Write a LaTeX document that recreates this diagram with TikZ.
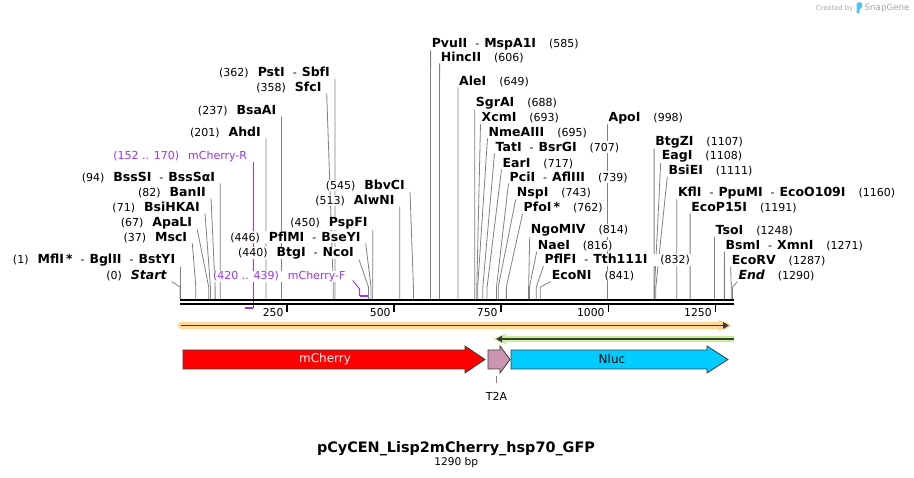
\documentclass[tikz,border=0pt]{standalone}
\usepackage{fontspec}
\setmainfont{DejaVu Sans}
\usetikzlibrary{arrows.meta,backgrounds}
\definecolor{cutgray}{RGB}{128,128,128}
\definecolor{primpurple}{RGB}{153,51,255}
\definecolor{cherryred}{RGB}{255,0,0}
\definecolor{t2apink}{RGB}{204,150,178}
\definecolor{nlucblue}{RGB}{0,204,255}
\definecolor{orangeband}{RGB}{255,214,150}
\definecolor{greenband}{RGB}{200,240,150}
\definecolor{darkline}{RGB}{60,60,60}
\definecolor{featedge}{RGB}{60,60,60}
\definecolor{snapgray}{RGB}{165,165,165}
\definecolor{snapblue}{RGB}{80,195,240}
\newcommand{\nm}[1]{{\fontsize{12.5}{14}\selectfont\bfseries #1}}
\newcommand{\nmi}[1]{{\fontsize{12.5}{14}\selectfont\bfseries\itshape #1}}
\newcommand{\dsh}{\hspace{8pt}-\hspace{5pt}}
\newcommand{\gapl}{\hspace{9pt}}
\newcommand{\gapr}{\hspace{13pt}}
% left label: id, bp, text right edge, y centre, text
\newcommand{\enzL}[5]{%
  \node[lab, anchor=base east] (#1) at ({#3+1},{#4+4.5}) {#5};
  \coordinate (#1b) at ({180+#2*0.4283},287);
  \coordinate (#1s) at ({180+#2*0.4283},299);
  \begin{scope}[on background layer]
    \draw[cut] ([xshift=4pt]#1.south east) -- (#1b) -- (#1s);
  \end{scope}}
% right label: id, bp, text left edge, y centre, text
\newcommand{\enzR}[5]{%
  \node[lab, anchor=base west] (#1) at ({#3-1},{#4+4.5}) {#5};
  \coordinate (#1b) at ({180+#2*0.4283},287);
  \coordinate (#1s) at ({180+#2*0.4283},299);
  \begin{scope}[on background layer]
    \draw[cut] (#1.south west) -- (#1b) -- (#1s);
  \end{scope}}
\begin{document}
\begin{tikzpicture}[x=1pt,y=-1pt,
  lab/.style={inner xsep=1pt, inner ysep=0.5pt, fill=white, font=\fontsize{11}{13}\selectfont, text=black},
  plab/.style={inner xsep=1pt, inner ysep=0.5pt, fill=white, font=\fontsize{11}{13}\selectfont, text=primpurple},
  cut/.style={draw=cutgray, line width=0.8pt},
  prim/.style={draw=primpurple, line width=0.9pt},
  primbar/.style={draw=primpurple, line width=2pt},
  bb/.style={draw=black, line width=2pt},
  tickmark/.style={draw=black, line width=1.6pt},
  ticklab/.style={inner sep=0pt, font=\fontsize{10.8}{12}\selectfont, anchor=base east},
  feat/.style={draw=featedge, line width=0.8pt},
  ftext/.style={inner sep=0pt, font=\fontsize{12}{14}\selectfont}]
\useasboundingbox (0,0) rectangle (914,478);

% ---- left-side enzyme labels
\enzL{e362}{362}{330}{72}{(362)\gapl\nm{PstI}\dsh\nm{SbfI}}
\enzL{e358}{358}{321.7}{86.7}{(358)\gapl\nm{SfcI}}
\enzL{e237}{237}{276.5}{110}{(237)\gapl\nm{BsaAI}}
\enzL{e201}{201}{261}{131.7}{(201)\gapl\nm{AhdI}}
\enzL{e94}{94}{215.3}{176.7}{(94)\gapl\nm{BssSI}\dsh\nm{BssSαI}}
\enzL{e82}{82}{206}{191.7}{(82)\gapl\nm{BanII}}
\enzL{e71}{71}{200}{206.7}{(71)\gapl\nm{BsiHKAI}}
\enzL{e67}{67}{192.3}{221.7}{(67)\gapl\nm{ApaLI}}
\enzL{e37}{37}{187.3}{236.7}{(37)\gapl\nm{MscI}}
\enzL{e1}{1}{175.4}{259}{(1)\gapl\nm{MflI\,*}\dsh\nm{BglII}\dsh\nm{BstYI}}
\enzL{e0}{0}{166.7}{275}{(0)\gapl\nmi{Start}}
\enzL{e545}{545}{405}{185}{(545)\gapl\nm{BbvCI}}
\enzL{e513}{513}{394.7}{200}{(513)\gapl\nm{AlwNI}}
\enzL{e450}{450}{367.7}{222.3}{(450)\gapl\nm{PspFI}}
\enzL{e446}{446}{360.7}{236.7}{(446)\gapl\nm{PflMI}\dsh\nm{BseYI}}
\enzL{e440}{440}{354}{251.7}{(440)\gapl\nm{BtgI}\dsh\nm{NcoI}}

% ---- right-side enzyme labels
\enzR{e585}{585}{431.6}{42.7}{\nm{PvuII}\dsh\nm{MspA1I}\gapr(585)}
\enzR{e606}{606}{440.6}{56.7}{\nm{HincII}\gapr(606)}
\enzR{e649}{649}{459}{80.7}{\nm{AleI}\gapr(649)}
\enzR{e688}{688}{475.7}{101.7}{\nm{SgrAI}\gapr(688)}
\enzR{e693}{693}{481.5}{117.3}{\nm{XcmI}\gapr(693)}
\enzR{e695}{695}{488.5}{131.7}{\nm{NmeAIII}\gapr(695)}
\enzR{e707}{707}{495.5}{146.7}{\nm{TatI}\dsh\nm{BsrGI}\gapr(707)}
\enzR{e717}{717}{502.5}{162.7}{\nm{EarI}\gapr(717)}
\enzR{e739}{739}{509.5}{176.7}{\nm{PciI}\dsh\nm{AflIII}\gapr(739)}
\enzR{e743}{743}{516.7}{191.7}{\nm{NspI}\gapr(743)}
\enzR{e762}{762}{523.5}{207.3}{\nm{PfoI\,*}\gapr(762)}
\enzR{e814}{814}{530.7}{229.3}{\nm{NgoMIV}\gapr(814)}
\enzR{e816}{816}{537.7}{245}{\nm{NaeI}\gapr(816)}
\enzR{e832}{832}{544.5}{259.3}{\nm{PflFI}\dsh\nm{Tth111I}\gapr(832)}
\enzR{e841}{841}{551.7}{275}{\nm{EcoNI}\gapr(841)}
\enzR{e998}{998}{608.4}{116.7}{\nm{ApoI}\gapr(998)}
\enzR{e1107}{1107}{655.1}{140.7}{\nm{BtgZI}\gapr(1107)}
\enzR{e1108}{1108}{661.7}{155}{\nm{EagI}\gapr(1108)}
\enzR{e1111}{1111}{668.3}{170}{\nm{BsiEI}\gapr(1111)}
\enzR{e1160}{1160}{677.8}{191.7}{\nm{KflI}\dsh\nm{PpuMI}\dsh\nm{EcoO109I}\gapr(1160)}
\enzR{e1191}{1191}{691.1}{206.7}{\nm{EcoP15I}\gapr(1191)}
\enzR{e1248}{1248}{715.5}{230}{\nm{TsoI}\gapr(1248)}
\enzR{e1271}{1271}{725.4}{245}{\nm{BsmI}\dsh\nm{XmnI}\gapr(1271)}
\enzR{e1287}{1287}{731.7}{260}{\nm{EcoRV}\gapr(1287)}
\enzR{e1290}{1290}{738.3}{275}{\nmi{End}\gapr(1290)}

% ---- primers
\node[plab, anchor=base east] (pR) at (248.3,159.5) {(152 .. 170)\hspace{9pt}mCherry-R};
\coordinate (pRend) at (253.3,308.5);
\coordinate (pRbar) at (245,308.5);
\node[plab, anchor=base east] (pF) at (346.7,279.5) {(420 .. 439)\hspace{9pt}mCherry-F};
\coordinate (pFb) at (359.6,289);
\coordinate (pFc) at (359.6,296);
\coordinate (pFbar) at (367.8,296);
\begin{scope}[on background layer]
  \draw[prim] ([xshift=5pt]pR.south east) -- (pRend);
  \draw[prim] ([xshift=6pt,yshift=2pt]pF.south east) -- (pFb) -- (pFc);
\end{scope}
\draw[primbar] (pRbar) -- (pRend);
\draw[primbar] (pFc) -- (pFbar);

% ---- backbone
\coordinate (bbL1) at (180,300.3);
\coordinate (bbR1) at (733.5,300.3);
\coordinate (bbL2) at (180,303.7);
\coordinate (bbR2) at (733.5,303.7);
\draw[bb] (bbL1) -- (bbR1);
\draw[bb] (bbL2) -- (bbR2);

% ---- ruler
\foreach \v/\xx in {250/287.1, 500/394.2, 750/501.2, 1000/608.3, 1250/715.4}{
  \coordinate (tk\v a) at (\xx,304.5);
  \coordinate (tk\v b) at (\xx,312);
  \draw[tickmark] (tk\v a) -- (tk\v b);
  \node[ticklab] (tl\v) at (\xx-3.5,316.5) {\v};
}

% ---- full-length feature bars
\coordinate (orL) at (181,325.5);
\coordinate (orR) at (729,325.5);
\draw[line width=6.5pt, draw=orangeband, line cap=round] (orL) -- ([xshift=-3pt]orR);
\fill[orangeband] (719,320) -- (731.5,325.5) -- (719,331) -- cycle;
\draw[darkline, line width=1.8pt, -{Triangle[length=6pt,width=6.5pt]}] (orL) -- (orR);
\coordinate (grL) at (496,339);
\coordinate (grR) at (734,339);
\draw[line width=6.5pt, draw=greenband] ([xshift=3pt]grL) -- (grR);
\fill[greenband] (506,333.5) -- (493.5,339) -- (506,344.5) -- cycle;
\draw[darkline, line width=1.8pt, {Triangle[length=6pt,width=6.5pt]}-] (grL) -- (grR);

% ---- features
\draw[feat, fill=cherryred] (183,350) -- (465,350) -- (465,346) -- (485,359.5) -- (465,373) -- (465,369) -- (183,369) -- cycle;
\node[ftext, text=white] (mch) at (325,359.5) {mCherry};
\draw[feat, fill=t2apink] (488,350) -- (500,350) -- (500,346) -- (510,359.5) -- (500,373) -- (500,369) -- (488,369) -- cycle;
\draw[feat, fill=nlucblue] (511,350) -- (707,350) -- (707,346) -- (728,359.5) -- (707,373) -- (707,369) -- (511,369) -- cycle;
\node[ftext, text=black] (nluc) at (612,359.5) {Nluc};
\node[inner sep=0pt, font=\fontsize{11}{13}\selectfont, anchor=base] (t2a) at (496.5,401) {T2A};
\coordinate (t2aA) at (496.5,376);
\coordinate (t2aB) at (496.5,383);
\draw[cut] (t2aA) -- (t2aB);

% ---- title
\node[inner sep=0pt, font=\fontsize{14.4}{16}\selectfont\bfseries, anchor=base] (title) at (456,453) {pCyCEN\_Lisp2mCherry\_hsp70\_GFP};
\node[inner sep=0pt, font=\fontsize{10.6}{12}\selectfont, anchor=base] (bp) at (456.3,465.5) {1290 bp};

% ---- credit
\node[inner sep=0pt, font=\fontsize{6.8}{8}\selectfont, text=snapgray, anchor=base east] (cby) at (853.5,10.3) {Created by};
\fill[snapblue, rounded corners=1pt] (856.5,2.5) -- (862,2.5) -- (862,8) -- (859.5,9) -- (859.5,13.5) -- (856.5,13.5) -- cycle;
\node[inner sep=0pt, font=\fontsize{8.7}{10}\selectfont, text=snapgray, anchor=base west] (sg) at (864.5,11) {SnapGene};
\end{tikzpicture}
\end{document}
